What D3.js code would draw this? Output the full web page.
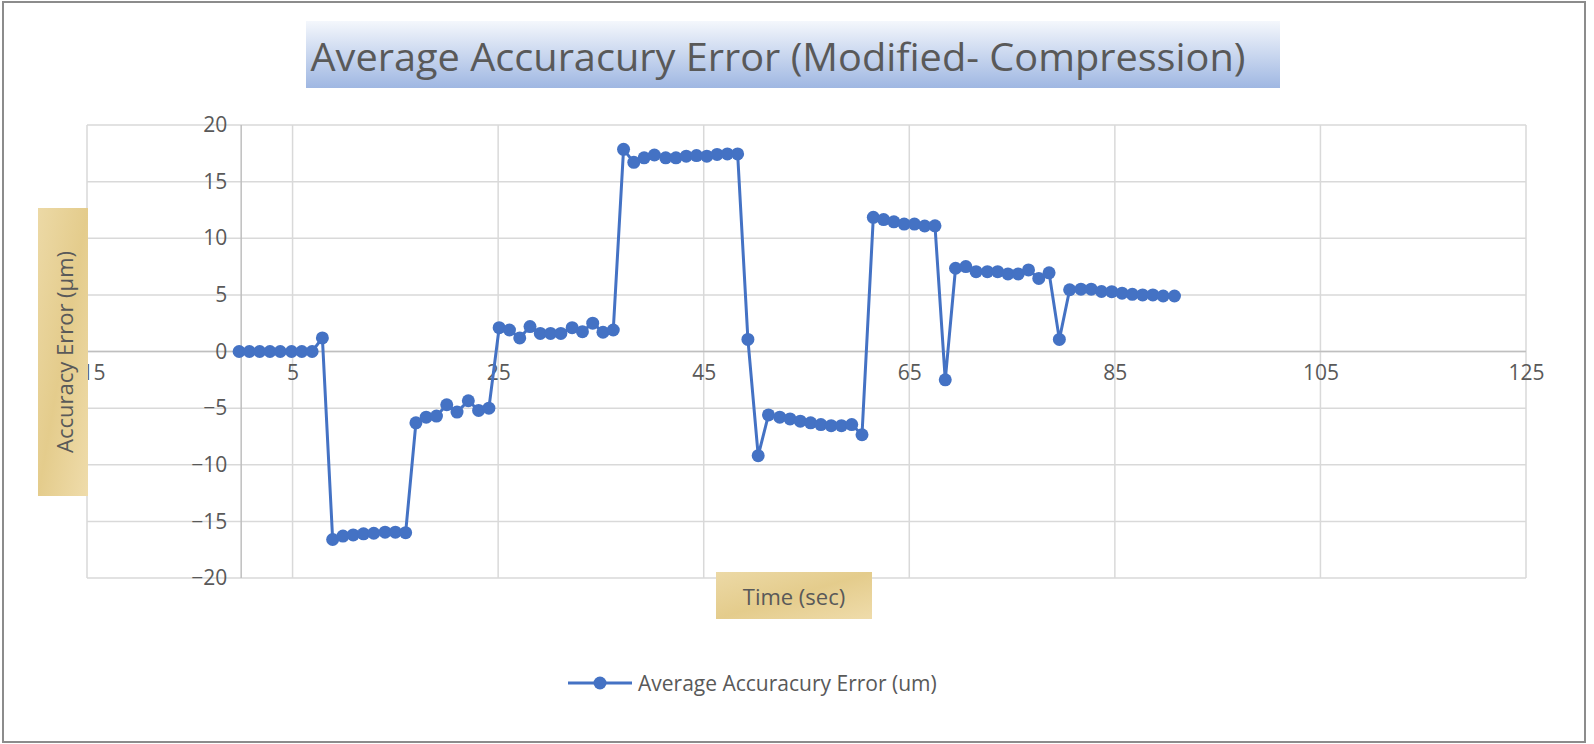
<!DOCTYPE html>
<html lang="en">
<head>
  <meta charset="UTF-8">
  <title>Average Accuracury Error (Modified- Compression)</title>
  <script src="https://d3js.org/d3.v7.min.js"></script>
  <style>
    body { margin: 0; background: #fff; font-family: "Open Sans", sans-serif; }
    .tick text { fill: #595959; font-size: 21px; font-family: "Open Sans", sans-serif; }
  </style>
</head>
<body>
<svg id="chart" width="1594" height="744"></svg>
<script>
  // ——— data ———
  const timeSec = [
    -0.2, 0.8, 1.8, 2.8, 3.8, 4.9, 5.9, 6.9, 7.9, 8.9,
    9.9, 10.9, 11.9, 12.9, 14.0, 15.0, 16.0, 17.0, 18.0, 19.0,
    20.0, 21.0, 22.1, 23.1, 24.1, 25.1, 26.1, 27.1, 28.1, 29.1,
    30.1, 31.1, 32.2, 33.2, 34.2, 35.2, 36.2, 37.2, 38.2, 39.2,
    40.2, 41.3, 42.3, 43.3, 44.3, 45.3, 46.3, 47.3, 48.3, 49.3,
    50.3, 51.3, 52.4, 53.4, 54.4, 55.4, 56.4, 57.4, 58.4, 59.4,
    60.4, 61.5, 62.5, 63.5, 64.5, 65.5, 66.5, 67.5, 68.5, 69.5,
    70.5, 71.5, 72.6, 73.6, 74.6, 75.6, 76.6, 77.6, 78.6, 79.6,
    80.6, 81.7, 82.7, 83.7, 84.7, 85.7, 86.7, 87.7, 88.7, 89.7,
    90.8
  ];
  const avgError = [
    0, 0, 0, 0, 0, 0, 0, 0, 1.2,
    -16.6, -16.3, -16.2, -16.1, -16.05, -15.95, -15.95, -16.0,
    -6.3, -5.8, -5.7, -4.7, -5.35, -4.35, -5.2, -5.0,
    2.1, 1.9, 1.2, 2.2, 1.6, 1.6, 1.6, 2.1, 1.75, 2.5, 1.7, 1.9,
    17.85, 16.7, 17.1, 17.35, 17.1, 17.1, 17.25, 17.3, 17.25, 17.4, 17.45, 17.45,
    1.07, -9.2,
    -5.6, -5.8, -5.95, -6.15, -6.3, -6.45, -6.55, -6.55, -6.45, -7.35,
    11.85, 11.65, 11.45, 11.25, 11.25, 11.08, 11.1,
    -2.5,
    7.35, 7.5, 7.05, 7.05, 7.05, 6.85, 6.85, 7.2, 6.45, 6.95,
    1.07,
    5.45, 5.5, 5.5, 5.3, 5.28, 5.15, 5.05, 5.0, 5.0, 4.9, 4.9
  ];
  const xTicks = [-15, 5, 25, 45, 65, 85, 105, 125];
  const yTicks = [-20, -15, -10, -5, 0, 5, 10, 15, 20];

  const data = timeSec.map((t, i) => ({ t: t, v: avgError[i] }));

  const svg = d3.select("#chart");
  const BLUE = "#4472c4", GRID = "#d9d9d9", TEXT = "#595959";

  const plot = { left: 87, right: 1526, top: 125, bottom: 578 };
  const x = d3.scaleLinear().domain([-15, 125]).range([plot.left, plot.right]);
  const y = d3.scaleLinear().domain([-20, 20]).range([plot.bottom, plot.top]);

  const defs = svg.append("defs");
  const tg = defs.append("linearGradient").attr("id", "titleGrad")
    .attr("x1", 0).attr("y1", 0).attr("x2", 0).attr("y2", 1);
  tg.append("stop").attr("offset", "0%").attr("stop-color", "#f4f7fc");
  tg.append("stop").attr("offset", "100%").attr("stop-color", "#9fb7e2");
  const pg = defs.append("linearGradient").attr("id", "papyrus")
    .attr("x1", 0).attr("y1", 0).attr("x2", 1).attr("y2", 1);
  pg.append("stop").attr("offset", "0%").attr("stop-color", "#ecd9a6");
  pg.append("stop").attr("offset", "50%").attr("stop-color", "#e4cc8c");
  pg.append("stop").attr("offset", "100%").attr("stop-color", "#efdcab");

  // outer chart border
  svg.append("rect").attr("x", 3).attr("y", 2).attr("width", 1582).attr("height", 740)
    .attr("fill", "#fff").attr("stroke", "#8c8c8c").attr("stroke-width", 2);

  // gridlines
  svg.append("g").selectAll("line").data(yTicks).join("line")
    .attr("x1", plot.left).attr("x2", plot.right)
    .attr("y1", d => y(d)).attr("y2", d => y(d))
    .attr("stroke", GRID).attr("stroke-width", 1.5);
  svg.append("g").selectAll("line").data(xTicks).join("line")
    .attr("y1", plot.top).attr("y2", plot.bottom)
    .attr("x1", d => x(d)).attr("x2", d => x(d))
    .attr("stroke", GRID).attr("stroke-width", 1.5);

  // axes crossing at zero
  svg.append("line").attr("x1", plot.left).attr("x2", plot.right)
    .attr("y1", y(0)).attr("y2", y(0)).attr("stroke", "#bfbfbf").attr("stroke-width", 1.5);
  svg.append("line").attr("x1", x(0)).attr("x2", x(0))
    .attr("y1", plot.top).attr("y2", plot.bottom).attr("stroke", "#bfbfbf").attr("stroke-width", 1.5);

  // tick labels
  const yAxis = svg.append("g").attr("transform", `translate(${x(0) - 14},0)`)
    .call(d3.axisLeft(y).tickValues(yTicks).tickSize(0).tickPadding(0));
  yAxis.select(".domain").remove();
  const xAxis = svg.append("g").attr("transform", `translate(0,${y(0) + 14})`)
    .call(d3.axisBottom(x).tickValues(xTicks).tickSize(0).tickPadding(0));
  xAxis.select(".domain").remove();

  // series
  svg.append("path").datum(data)
    .attr("fill", "none").attr("stroke", BLUE).attr("stroke-width", 3)
    .attr("stroke-linejoin", "round")
    .attr("d", d3.line().x(d => x(d.t)).y(d => y(d.v)));
  svg.append("g").selectAll("circle").data(data).join("circle")
    .attr("cx", d => x(d.t)).attr("cy", d => y(d.v)).attr("r", 6.5)
    .attr("fill", BLUE);

  // title
  svg.append("rect").attr("x", 306).attr("y", 21).attr("width", 974).attr("height", 67)
    .attr("fill", "url(#titleGrad)");
  svg.append("text").attr("x", 778).attr("y", 55)
    .attr("text-anchor", "middle").attr("dominant-baseline", "central")
    .attr("font-size", 39).attr("font-weight", 500).attr("fill", TEXT)
    .attr("textLength", 935).attr("lengthAdjust", "spacingAndGlyphs")
    .text("Average Accuracury Error (Modified- Compression)");

  // y axis title
  svg.append("rect").attr("x", 38).attr("y", 208).attr("width", 50).attr("height", 288)
    .attr("fill", "url(#papyrus)");
  svg.append("text").attr("transform", "translate(64,352) rotate(-90)")
    .attr("text-anchor", "middle").attr("dominant-baseline", "central")
    .attr("font-size", 22).attr("fill", TEXT)
    .text("Accuracy Error (µm)");

  // x axis title
  svg.append("rect").attr("x", 716).attr("y", 572).attr("width", 156).attr("height", 47)
    .attr("fill", "url(#papyrus)");
  svg.append("text").attr("x", 794).attr("y", 596)
    .attr("text-anchor", "middle").attr("dominant-baseline", "central")
    .attr("font-size", 22).attr("fill", TEXT)
    .text("Time (sec)");

  // legend
  const legend = svg.append("g").attr("transform", "translate(568,683)");
  legend.append("line").attr("x1", 0).attr("x2", 64).attr("stroke", BLUE).attr("stroke-width", 3);
  legend.append("circle").attr("cx", 32).attr("r", 6.5).attr("fill", BLUE);
  legend.append("text").attr("x", 70).attr("dominant-baseline", "central")
    .attr("font-size", 21).attr("fill", TEXT)
    .text("Average Accuracury Error (um)");
</script>
</body>
</html>
